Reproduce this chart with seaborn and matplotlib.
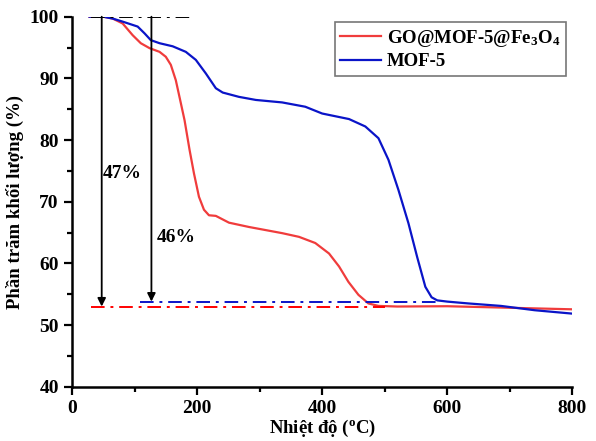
import numpy as np
import pandas as pd
import matplotlib
matplotlib.use("Agg")
import matplotlib.pyplot as plt
import seaborn as sns

# GO@MOF-5@Fe3O4 (red)
temp_go = [28, 50, 65, 81, 97, 110, 124, 140, 150, 158, 166, 174, 180, 188, 195, 203, 211, 219, 230, 251, 283, 336, 363, 389, 411, 427, 442, 458, 474, 490, 520, 600, 700, 800]
mass_go = [100, 100, 99.7, 98.9, 97.0, 95.7, 94.9, 94.3, 93.5, 92.2, 89.7, 86.0, 83.2, 78.4, 74.6, 70.8, 68.7, 67.8, 67.7, 66.6, 65.9, 64.9, 64.3, 63.3, 61.6, 59.5, 57.0, 54.9, 53.5, 53.1, 53.0, 53.05, 52.8, 52.55]

# MOF-5 (blue)
temp_mof = [28, 50, 65, 81, 105, 116, 126, 140, 161, 182, 198, 214, 230, 241, 267, 294, 336, 373, 400, 443, 469, 490, 506, 522, 538, 552, 565, 575, 584, 600, 634, 686, 740, 800]
mass_mof = [100, 100, 99.7, 99.2, 98.4, 97.3, 96.2, 95.7, 95.2, 94.3, 93.0, 90.8, 88.4, 87.7, 87.0, 86.5, 86.1, 85.4, 84.3, 83.4, 82.2, 80.3, 76.8, 71.9, 66.5, 61.0, 56.2, 54.5, 54.0, 53.8, 53.5, 53.1, 52.4, 51.85]

labels = ["GO@MOF-5@Fe$_3$O$_4$", "MOF-5"]
colors = ["#f03c3c", "#0a14c8"]

plt.rcParams['font.family'] = ['Liberation Serif', 'DejaVu Serif']
plt.rcParams['font.weight'] = 'bold'
plt.rcParams['mathtext.fontset'] = 'custom'
plt.rcParams['mathtext.rm'] = 'Liberation Serif:bold'
plt.rcParams['mathtext.it'] = 'Liberation Serif:bold'
plt.rcParams['mathtext.bf'] = 'Liberation Serif:bold'
plt.rcParams['mathtext.default'] = 'rm'

fig = plt.figure(figsize=(5.96, 4.41), dpi=100)
ax = fig.add_axes([72/596, 1-386.7/441, (572.3-72)/596, (386.7-16.7)/441])

df = pd.concat([
    pd.DataFrame({"T": temp_go, "m": mass_go, "s": labels[0]}),
    pd.DataFrame({"T": temp_mof, "m": mass_mof, "s": labels[1]}),
])
sns.lineplot(data=df, x="T", y="m", hue="s", palette=colors, ax=ax, lw=1.6, sort=False, estimator=None)
for ln in ax.lines:
    ln.set_solid_joinstyle('round')

# reference lines
ax.plot([30, 195], [100, 100], color='black', ls='-.', lw=1.4, dashes=[7, 3, 1.5, 3])
ax.plot([31, 500], [53.0, 53.0], color='red', ls='-.', lw=1.4, dashes=[7, 3, 1.5, 3])
ax.plot([108, 585], [53.8, 53.8], color='#0a14c8', ls='-.', lw=1.4, dashes=[7, 3, 1.5, 3])

# arrows
ax.annotate('', xy=(47.5, 53.0), xytext=(47.5, 100),
            arrowprops=dict(arrowstyle='-|>', color='black', lw=1.3, mutation_scale=12, shrinkA=0, shrinkB=0))
ax.annotate('', xy=(127, 53.8), xytext=(127, 100),
            arrowprops=dict(arrowstyle='-|>', color='black', lw=1.3, mutation_scale=12, shrinkA=0, shrinkB=0))
ax.text(49, 74.6, "47%", fontsize=14, fontweight='bold', va='center', ha='left')
ax.text(135, 64.2, "46%", fontsize=14, fontweight='bold', va='center', ha='left')

ax.set_xlim(0, 800)
ax.set_ylim(40, 100)
ax.set_xticks([0, 200, 400, 600, 800])
ax.set_yticks([40, 50, 60, 70, 80, 90, 100])
ax.set_xticks([100, 300, 500, 700], minor=True)
ax.set_yticks([45, 55, 65, 75, 85, 95], minor=True)
ax.tick_params(which='major', direction='out', length=6, width=1.6, labelsize=14)
ax.tick_params(which='minor', direction='out', length=3.5, width=1.6)
for lab in ax.get_xticklabels() + ax.get_yticklabels():
    lab.set_fontweight('bold')
for s in ['top', 'right']:
    ax.spines[s].set_visible(False)
for s in ['left', 'bottom']:
    ax.spines[s].set_linewidth(1.8)
ax.set_xlabel("Nhiệt độ ($^{\\mathrm{o}}$C)", fontsize=13.5, fontweight='bold', labelpad=1)
ax.set_ylabel("Phần trăm khối lượng (%)", fontsize=13.5, fontweight='bold', labelpad=4)

leg = ax.legend(loc='upper right', bbox_to_anchor=(566/596, 1-22/441), bbox_transform=fig.transFigure,
                fontsize=13.5, frameon=True, fancybox=False, edgecolor='#555555',
                handlelength=2.2, borderpad=0.3, labelspacing=0.25, handletextpad=0.3,
                borderaxespad=0)
leg.get_frame().set_linewidth(1.2)
for t in leg.get_texts():
    t.set_fontweight('bold')

fig.savefig("out.png", dpi=100)
